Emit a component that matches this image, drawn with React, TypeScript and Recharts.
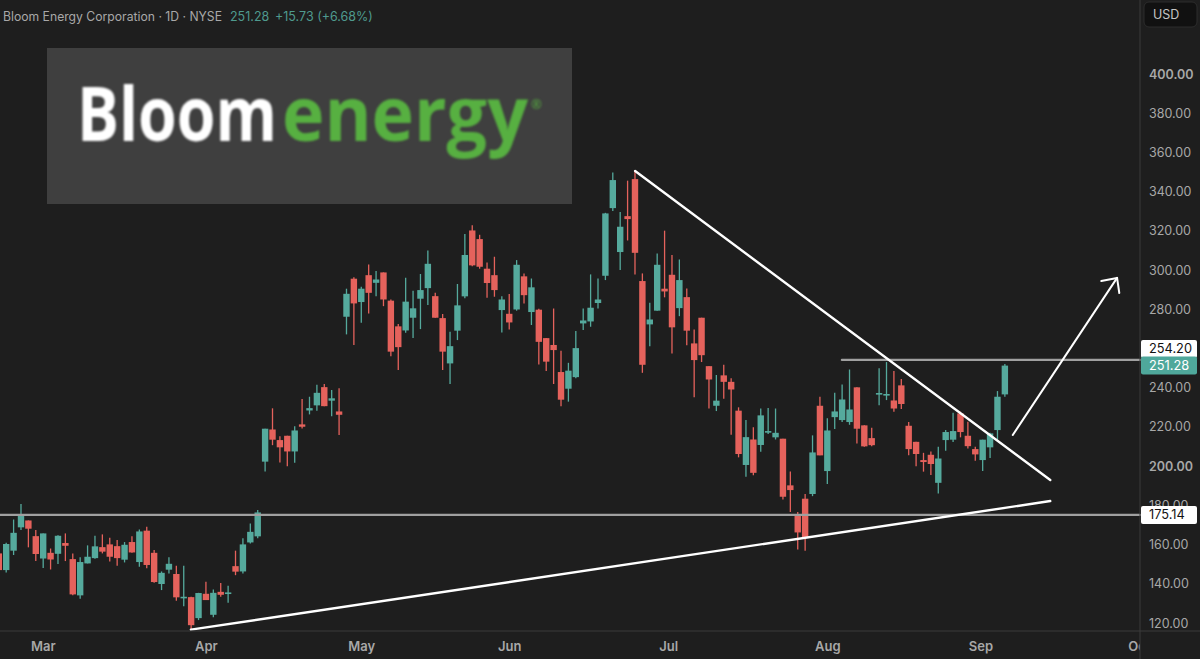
import React from 'react';
import { ComposedChart, Bar, XAxis, YAxis, ReferenceLine } from 'recharts';

const opens = [
  155.5,147.0,156.9,168.8,172.3,164.3,152.9,155.8,155.3,160.8,
  152.6,134.1,150.4,153.1,158.7,160.1,159.2,152.3,161.3,151.1,
  167.1,155.8,139.9,147.2,145.0,132.7,133.2,122.5,134.9,124.2,
  135.9,134.9,149.0,146.3,161.1,164.2,202.3,218.7,213.3,215.5,
  207.5,221.3,228.4,231.0,240.3,233.4,227.9,276.2,295.6,283.7,
  297.4,293.5,298.8,284.4,271.3,269.2,275.7,285.4,290.8,286.7,
  275.5,252.4,269.1,286.6,320.2,315.8,300.7,297.4,279.6,277.7,
  279.9,296.8,278.6,279.8,265.3,261.8,248.0,239.5,245.4,272.8,
  273.8,283.2,297.1,331.6,309.2,327.5,346.4,294.4,272.3,279.3,
  290.5,297.6,280.6,286.2,262.6,275.7,251.0,230.8,246.3,243.0,
  228.3,200.6,213.6,210.8,217.2,214.7,214.0,190.2,175.4,183.4,
  185.8,230.8,197.5,225.0,223.5,222.5,240.2,220.8,214.3,236.9,
  236.1,233.5,241.2,220.6,212.4,203.1,205.8,191.5,213.3,213.5,
  226.9,215.5,208.7,203.1,209.6,218.4,236.6,
];
const highs = [
  155.5,160.9,172.8,180.7,172.3,167.4,165.7,158.0,164.8,165.7,
  155.5,153.5,159.6,164.5,165.2,163.5,162.3,161.3,164.3,167.7,
  169.1,157.2,146.3,153.5,149.2,149.2,133.4,135.4,141.0,137.1,
  140.4,139.0,156.9,163.2,170.8,177.6,219.1,229.5,215.3,215.5,
  220.4,234.2,235.4,241.5,241.9,238.8,239.7,290.5,296.3,291.5,
  302.9,299.5,298.8,285.0,272.5,296.1,289.5,298.0,310.0,288.4,
  277.6,268.5,292.9,318.4,322.8,318.0,303.9,306.8,286.7,287.8,
  305.1,298.3,295.7,280.3,265.3,280.4,258.9,252.7,268.9,280.4,
  297.8,295.7,329.2,349.8,329.6,345.6,351.0,298.3,283.3,308.5,
  320.1,307.7,305.4,290.6,269.7,275.7,251.0,246.5,251.7,244.8,
  230.0,223.5,219.8,229.4,229.6,229.4,214.0,197.3,176.6,185.8,
  215.7,235.4,224.4,237.4,241.7,249.3,240.2,220.8,219.6,249.9,
  253.1,248.5,244.4,222.5,212.4,206.8,207.5,209.9,218.4,227.2,
  227.8,222.7,209.9,213.5,217.0,238.3,252.1,
];
const lows = [
  146.2,145.8,154.7,167.4,158.6,151.6,148.0,147.3,150.1,151.6,
  134.2,132.4,150.4,152.8,155.5,151.4,149.2,150.9,155.8,148.7,
  147.9,140.5,136.8,145.3,131.4,128.6,117.0,121.5,131.7,122.9,
  133.4,130.3,144.4,145.3,160.6,163.2,197.3,210.7,201.9,200.0,
  201.7,219.2,226.4,228.3,230.6,225.5,215.9,267.2,261.8,273.1,
  277.9,286.7,281.6,256.1,249.0,268.0,265.3,269.9,282.2,275.7,
  249.0,241.9,264.3,285.6,302.0,300.7,285.9,286.4,268.2,269.7,
  279.3,283.0,272.0,251.9,248.5,241.9,230.6,232.9,244.8,269.4,
  271.1,280.4,294.9,330.1,300.0,315.1,297.8,247.6,261.2,279.3,
  286.1,257.5,276.5,261.6,235.1,253.1,229.4,228.1,234.4,216.0,
  204.5,194.6,195.3,207.4,216.4,213.6,183.0,176.6,157.5,156.9,
  184.7,205.5,190.9,218.9,222.5,221.1,211.6,209.9,210.2,231.0,
  233.7,227.8,229.1,205.6,200.0,197.2,195.5,186.1,207.9,212.3,
  214.7,209.0,202.8,197.5,204.1,213.6,235.4,
];
const closes = [
  147.0,160.3,166.0,175.1,168.1,155.2,165.7,152.4,164.5,159.4,
  134.6,151.1,153.8,159.1,156.4,153.8,153.1,159.9,156.0,166.7,
  149.6,140.9,145.6,150.2,133.1,133.4,118.9,135.3,131.7,135.4,
  134.4,135.6,146.2,160.1,166.5,176.4,219.1,213.5,209.6,207.5,
  218.2,220.1,229.6,237.4,230.6,234.6,226.2,287.9,283.0,290.5,
  288.4,295.2,285.0,258.4,260.7,283.9,280.5,289.8,303.2,275.7,
  258.4,261.2,282.0,307.7,302.4,301.7,293.4,289.8,285.0,273.3,
  302.7,287.2,291.2,263.4,253.3,259.2,233.9,248.7,260.2,274.3,
  280.8,285.0,328.9,345.9,322.1,326.0,308.8,251.7,274.8,302.7,
  289.1,270.8,294.9,269.1,254.1,256.6,244.2,233.4,243.0,239.1,
  206.2,214.8,196.6,225.9,217.9,217.0,184.4,187.8,166.2,163.7,
  207.0,205.5,218.2,227.9,234.0,228.9,219.1,210.1,210.7,237.3,
  236.8,229.4,231.7,208.7,206.2,202.1,201.1,203.9,217.4,217.9,
  217.4,210.2,206.0,213.5,216.7,235.4,251.28,
];

const priceTicks = [120, 140, 160, 180, 200, 220, 240, 260, 280, 300, 320, 340, 360, 380, 400];
const boldPrices = [200, 400];
const priceTags = [175.14, 254.2, 251.28];
const monthLabels = ['Mar', 'Apr', 'May', 'Jun', 'Jul', 'Aug', 'Sep', 'Oct'];
const monthIndexes = [5.95, 28, 49, 69, 90.5, 112, 132.7, 154.1];

// drawings on top of the candles, as [bar index, price]
const supportLine = [[25.9, 116.6], [142.07, 182.2]];
const resistanceLine = [[85.95, 350.5], [142.07, 192.9]];
const arrowShaft = [[137, 215.9], [151.1, 296]];
const arrowHeadLeft = [[148.96, 294.4], [151.1, 296]];
const arrowHeadRight = [[151.4, 288.3], [151.1, 296]];
const lowerLevel = [[0.1, 175.14], [154.2, 175.14]];
const upperLevel = [[113.9, 254.2], [154.2, 254.2]];

const GREEN = '#55aa9d';
const RED = '#e5625c';
const BG = '#1e1e1e';
const AXIS_TEXT = '#a8a8a8';
const FONT = 'Inter, "Noto Sans", sans-serif';

const candles = opens.map((open, i) => ({
  index: i,
  open,
  high: highs[i],
  low: lows[i],
  close: closes[i],
  range: [lows[i], highs[i]],
}));

const Candle = (props: any) => {
  const { x, y, width, height, payload } = props;
  const { open, close, high, low } = payload;
  const color = close >= open ? GREEN : RED;
  const perPrice = height / (high - low);
  const bodyTop = y + (high - Math.max(open, close)) * perPrice;
  const bodyH = Math.max(Math.abs(open - close) * perPrice, 1.6);
  const mid = x + width / 2;
  return (
    <g>
      <line x1={mid} x2={mid} y1={y} y2={y + height} stroke={color} strokeWidth={1.3} />
      <rect x={x} y={bodyTop} width={width} height={bodyH} fill={color} />
    </g>
  );
};

const PriceTick = (props: any) => {
  const { y, payload } = props;
  const value = payload.value;
  if (priceTags.includes(value)) {
    const isLast = value === 251.28;
    const cy = value === 254.2 ? y - 11 : y;
    return (
      <g>
        <rect x={1141} y={cy - 9} width={56} height={18} rx={2} fill={isLast ? '#4fa89b' : '#ffffff'} />
        <text x={1149} y={cy + 4.5} fontSize={12.8} fontFamily={FONT} fill={isLast ? '#ffffff' : '#111111'}>
          {value.toFixed(2)}
        </text>
      </g>
    );
  }
  return (
    <text
      x={1149}
      y={y + 4.5}
      fontSize={12.5}
      fontFamily={FONT}
      fontWeight={boldPrices.includes(value) ? 600 : 400}
      fill={AXIS_TEXT}
    >
      {value.toFixed(2)}
    </text>
  );
};

const MonthTick = (props: any) => {
  const { x, payload } = props;
  const label = monthLabels[monthIndexes.indexOf(payload.value)];
  return (
    <g>
      <clipPath id={`month-${label}`}>
        <rect x={0} y={630} width={1140} height={29} />
      </clipPath>
      <text
        x={x}
        y={651}
        textAnchor="middle"
        fontSize={13}
        fontFamily={FONT}
        fontWeight={600}
        fill={AXIS_TEXT}
        clipPath={`url(#month-${label})`}
      >
        {label}
      </text>
    </g>
  );
};

const drawing = (pts: number[][], color: string, width: number) => (
  <ReferenceLine
    segment={[{ x: pts[0][0], y: pts[0][1] }, { x: pts[1][0], y: pts[1][1] }]}
    stroke={color}
    strokeWidth={width}
    strokeLinecap="round"
    ifOverflow="visible"
  />
);

export default function App() {
  return (
    <div style={{ position: 'absolute', left: 0, top: 0, width: 1200, height: 659, background: BG, overflow: 'hidden' }}>
      <ComposedChart
        width={1200}
        height={659}
        data={candles}
        margin={{ top: 0, right: 0, bottom: 0, left: 0 }}
        barCategoryGap={0}
      >
        <XAxis
          dataKey="index"
          type="number"
          domain={[0.095, 154.2]}
          allowDataOverflow
          ticks={monthIndexes}
          interval={0}
          height={29}
          axisLine={false}
          tickLine={false}
          tick={MonthTick}
        />
        <YAxis
          orientation="right"
          width={60}
          type="number"
          domain={[116.44, 437.74]}
          allowDataOverflow
          ticks={[...priceTicks, ...priceTags]}
          interval={0}
          axisLine={false}
          tickLine={false}
          tick={PriceTick}
        />
        <Bar dataKey="range" barSize={6.4} shape={Candle} isAnimationActive={false} />
        {drawing(lowerLevel, '#a0a0a0', 2.2)}
        {drawing(upperLevel, '#a0a0a0', 2.2)}
        {drawing(supportLine, '#ffffff', 2.4)}
        {drawing(resistanceLine, '#ffffff', 2.4)}
        {drawing(arrowShaft, '#ffffff', 2)}
        {drawing(arrowHeadLeft, '#ffffff', 2)}
        {drawing(arrowHeadRight, '#ffffff', 2)}
      </ComposedChart>

      {/* header, logo box and price scale frame */}
      <svg width={1200} height={659} style={{ position: 'absolute', left: 0, top: 0, pointerEvents: 'none' }}>
        <line x1={1140} x2={1140} y1={0} y2={659} stroke="#3a3a3a" strokeWidth={1} />
        <line x1={0} x2={1200} y1={631} y2={631} stroke="#3a3a3a" strokeWidth={1} />
        <text x={3} y={21} fontSize={12.5} fontFamily={FONT} fill="#a8a8a8" textLength={219} lengthAdjust="spacingAndGlyphs">
          Bloom Energy Corporation · 1D · NYSE
        </text>
        <text x={230} y={21} fontSize={12.5} fontFamily={FONT} fill="#4f9a8e">
          251.28
        </text>
        <text x={275} y={21} fontSize={12.5} fontFamily={FONT} fill="#4f9a8e">
          +15.73 (+6.68%)
        </text>
        <rect x={1144} y={2} width={53} height={25} rx={5} fill="#111111" stroke="#2c2c2c" />
        <text x={1153} y={19} fontSize={12.5} fontFamily={FONT} fill="#c4c4c4">
          USD
        </text>
        <rect x={47} y={48} width={525} height={156} fill="#3f3f3f" />
        <g style={{ filter: 'blur(0.8px)' }} fontFamily='"Open Sans", sans-serif' fontWeight={700}>
          <text x={77} y={141} fontSize={76} fill="#ffffff" textLength={200} lengthAdjust="spacingAndGlyphs">
            Bloom
          </text>
          <text x={282} y={141} fontSize={76} fill="#57b041" textLength={246} lengthAdjust="spacingAndGlyphs">
            energy
          </text>
          <text x={531} y={109} fontSize={13} fontWeight={400} fill="#57b041">
            ®
          </text>
        </g>
      </svg>
    </div>
  );
}
